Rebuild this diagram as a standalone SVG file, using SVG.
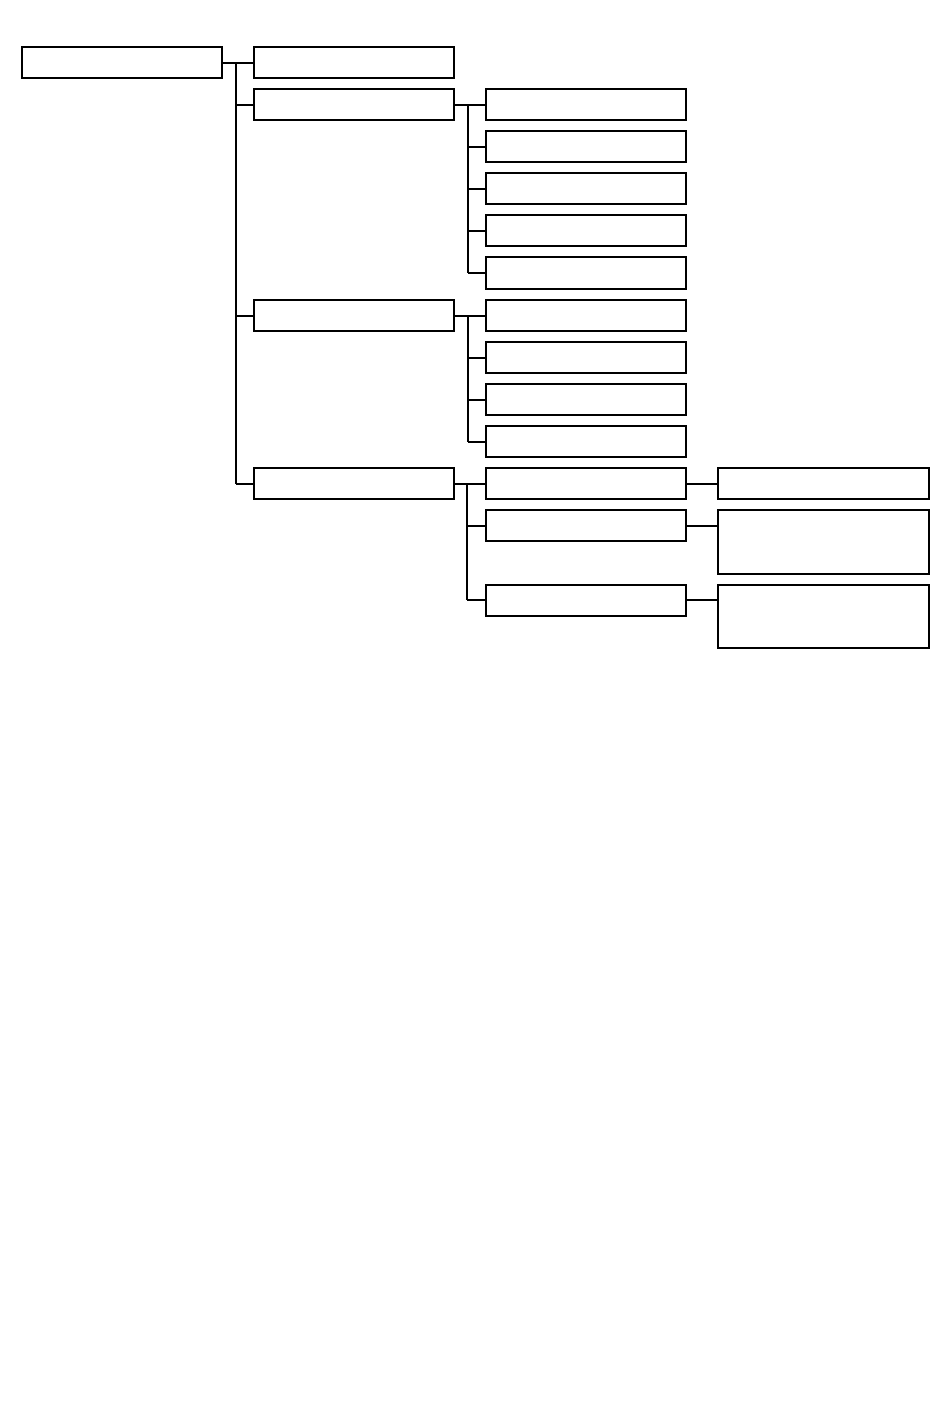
<svg xmlns="http://www.w3.org/2000/svg" width="950" height="1412" viewBox="0 0 950 1412">
<style>
.n{fill:#fff;stroke:#000;stroke-width:2}
.c{fill:none;stroke:#000;stroke-width:2}
</style>
<rect width="950" height="1412" fill="#fff"/>
<g id="connectors">
<path class="c" d="M222 63H254M236 63V484M236 105H254M236 316H254M236 484H254"/>
<path class="c" d="M454 105H486M468 105V273M468 147H486M468 189H486M468 231H486M468 273H486"/>
<path class="c" d="M454 316H486M468 316V442M468 358H486M468 400H486M468 442H486"/>
<path class="c" d="M454 484H486M467 484V600M467 526H486M467 600H486"/>
<path class="c" d="M686 484H718M686 526H718M686 600H718"/>
</g>
<g id="root"><rect class="n" x="22" y="47" width="200" height="31"/></g>
<g id="a"><rect class="n" x="254" y="47" width="200" height="31"/></g>
<g id="b"><rect class="n" x="254" y="89" width="200" height="31"/></g>
<g id="b1"><rect class="n" x="486" y="89" width="200" height="31"/></g>
<g id="b2"><rect class="n" x="486" y="131" width="200" height="31"/></g>
<g id="b3"><rect class="n" x="486" y="173" width="200" height="31"/></g>
<g id="b4"><rect class="n" x="486" y="215" width="200" height="31"/></g>
<g id="b5"><rect class="n" x="486" y="257" width="200" height="32"/></g>
<g id="c"><rect class="n" x="254" y="300" width="200" height="31"/></g>
<g id="c1"><rect class="n" x="486" y="300" width="200" height="31"/></g>
<g id="c2"><rect class="n" x="486" y="342" width="200" height="31"/></g>
<g id="c3"><rect class="n" x="486" y="384" width="200" height="31"/></g>
<g id="c4"><rect class="n" x="486" y="426" width="200" height="31"/></g>
<g id="d"><rect class="n" x="254" y="468" width="200" height="31"/></g>
<g id="d1"><rect class="n" x="486" y="468" width="200" height="31"/></g>
<g id="d2"><rect class="n" x="486" y="510" width="200" height="31"/></g>
<g id="d3"><rect class="n" x="486" y="585" width="200" height="31"/></g>
<g id="e1"><rect class="n" x="718" y="468" width="211" height="31"/></g>
<g id="e2"><rect class="n" x="718" y="510" width="211" height="64"/></g>
<g id="e3"><rect class="n" x="718" y="585" width="211" height="63"/></g>
</svg>
